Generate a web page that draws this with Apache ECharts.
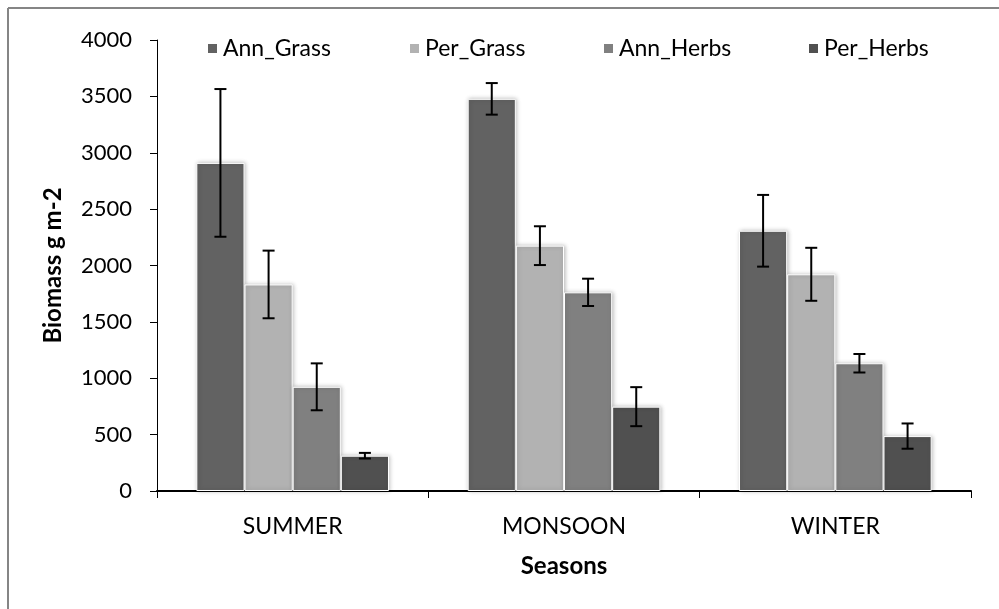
<!DOCTYPE html>
<html>
<head>
<meta charset="utf-8">
<script src="https://cdn.jsdelivr.net/npm/echarts@6/dist/echarts.min.js"></script>
<style>html,body{margin:0;padding:0;background:#fff}#c{width:999px;height:609px}</style>
</head>
<body>
<div id="c"></div>
<script>
var categories = ['SUMMER', 'MONSOON', 'WINTER'];
var seriesNames = ['Ann_Grass', 'Per_Grass', 'Ann_Herbs', 'Per_Herbs'];
var annGrass = [2910, 3478, 2308];
var perGrass = [1832, 2176, 1922];
var annHerbs = [924, 1762, 1133];
var perHerbs = [313, 748, 487];
var annGrassErr = [655, 140, 318];
var perGrassErr = [300, 172, 235];
var annHerbsErr = [208, 121, 82];
var perHerbsErr = [25, 173, 112];
var yTicks = [0, 500, 1000, 1500, 2000, 2500, 3000, 3500, 4000];

var values = [annGrass, perGrass, annHerbs, perHerbs];
var errors = [annGrassErr, perGrassErr, annHerbsErr, perHerbsErr];
var colors = ['#626262', '#b2b2b2', '#808080', '#505050'];
var FONT = 'Lato';
var CAT_GAP = 0.29;

var chart = echarts.init(document.getElementById('c'), null, {renderer: 'canvas'});

var series = [];
seriesNames.forEach(function (name, i) {
  series.push({
    name: name,
    type: 'bar',
    data: values[i],
    barGap: '0%',
    barCategoryGap: (CAT_GAP * 100) + '%',
    itemStyle: {color: colors[i], borderColor: '#ffffff', borderWidth: 1,
      shadowBlur: 4, shadowColor: 'rgba(0,0,0,0.25)', shadowOffsetX: 1, shadowOffsetY: 0},
    emphasis: {disabled: true},
    z: 2
  });
});
seriesNames.forEach(function (name, i) {
  var errData = values[i].map(function (v, k) {
    return [k, v - errors[i][k], v + errors[i][k]];
  });
  series.push({
    type: 'custom',
    name: name + '_err',
    data: errData,
    z: 10,
    silent: true,
    renderItem: function (params, api) {
      var k = api.value(0);
      var lo = api.coord([k, api.value(1)]);
      var hi = api.coord([k, api.value(2)]);
      var catW = api.size([1, 0])[0];
      var bw = catW * (1 - CAT_GAP) / 4;
      var x = lo[0] + (i - 1.5) * bw;
      var cap = 6;
      var st = {stroke: '#000', lineWidth: 2};
      return {
        type: 'group',
        children: [
          {type: 'line', shape: {x1: x, y1: lo[1], x2: x, y2: hi[1]}, style: st},
          {type: 'line', shape: {x1: x - cap, y1: lo[1], x2: x + cap, y2: lo[1]}, style: st},
          {type: 'line', shape: {x1: x - cap, y1: hi[1], x2: x + cap, y2: hi[1]}, style: st}
        ]
      };
    }
  });
});

var legendLefts = [206, 408, 602, 807];
var legends = seriesNames.map(function (name, i) {
  return {
    data: [name],
    left: legendLefts[i],
    top: 37,
    itemWidth: 11,
    itemHeight: 11,
    itemGap: 10,
    icon: 'rect',
    selectedMode: false,
    textStyle: {fontFamily: FONT, fontSize: 23, color: '#000', padding: [0, 0, 0, 0]},
    padding: 0
  };
});

chart.setOption({
  animation: false,
  backgroundColor: '#ffffff',
  textStyle: {fontFamily: FONT},
  legend: legends,
  grid: {left: 157, right: 28, top: 40, bottom: 118, containLabel: false},
  xAxis: {
    type: 'category',
    data: categories,
    name: 'Seasons',
    nameLocation: 'middle',
    nameGap: 63,
    nameTextStyle: {fontFamily: FONT, fontSize: 24, fontWeight: 'bold', color: '#000'},
    axisLine: {show: true, lineStyle: {color: '#000', width: 2}},
    axisTick: {show: true, length: 7, alignWithLabel: false, lineStyle: {color: '#000', width: 1}},
    axisLabel: {fontFamily: FONT, fontSize: 23, color: '#000', margin: 24},
    splitLine: {show: false}
  },
  yAxis: {
    type: 'value',
    min: 0,
    max: 4000,
    interval: 500,
    name: 'Biomass g m-2',
    nameLocation: 'middle',
    nameGap: 92,
    nameTextStyle: {fontFamily: FONT, fontSize: 24, fontWeight: 'bold', color: '#000'},
    axisLine: {show: true, lineStyle: {color: '#000', width: 1}},
    axisTick: {show: true, length: 7, lineStyle: {color: '#000', width: 1}},
    axisLabel: {fontFamily: FONT, fontSize: 22, color: '#000', margin: 25,
      formatter: function (v) { return yTicks.indexOf(v) >= 0 ? String(v) : ''; }},
    splitLine: {show: false}
  },
  graphic: [
    {type: 'line', shape: {x1: 8, y1: 8, x2: 999, y2: 8}, style: {stroke: '#858585', lineWidth: 2}},
    {type: 'line', shape: {x1: 8, y1: 8, x2: 8, y2: 609}, style: {stroke: '#858585', lineWidth: 2}}
  ],
  series: series
});
</script>
</body>
</html>
